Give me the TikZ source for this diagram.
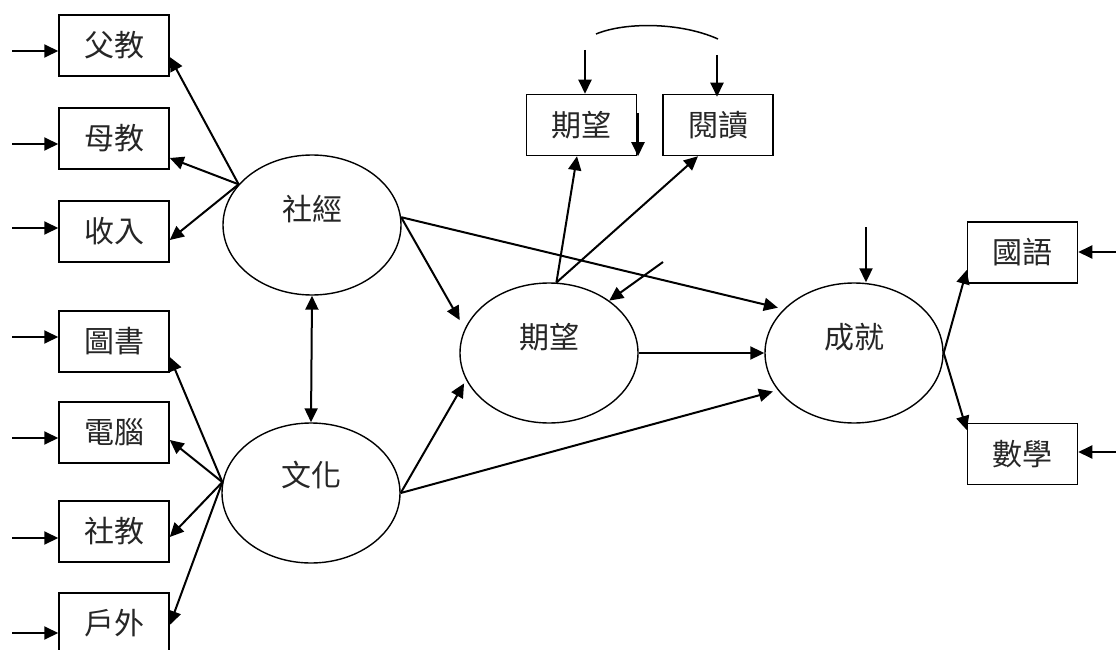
\documentclass[tikz,border=0pt]{standalone}
\usepackage{fontspec}
\newfontfamily\cjk{Noto Sans CJK TC}
\usetikzlibrary{shapes.geometric,arrows.meta}
\begin{document}
\begin{tikzpicture}[x=1pt,y=-1pt,
  obs/.style={draw,line width=1.5pt,minimum width=110pt,minimum height=61pt,inner sep=0pt,
              font=\cjk\fontsize{30}{34}\selectfont,text=black!85},
  lat/.style={draw,ellipse,line width=1.4pt,minimum width=178pt,minimum height=140pt,inner sep=0pt},
  latlab/.style={font=\cjk\fontsize{30}{34}\selectfont,inner sep=0pt,text=black!85},
  arr/.style={line width=2pt,-{Triangle[length=14pt,width=13pt]}},
  darr/.style={line width=2pt,{Triangle[length=14pt,width=13pt]}-{Triangle[length=14pt,width=13pt]}},
  arcline/.style={line width=1.5pt}]
\fill[white] (0,0) rectangle (1116,650);
\useasboundingbox (0,0) rectangle (1116,650);

% observed indicators, left column
\node[obs] (fj) at (114,45.5)  {父教};
\node[obs] (mj) at (114,138.5) {母教};
\node[obs] (sr) at (114,231.5) {收入};
\node[obs] (ts) at (114,341.5) {圖書};
\node[obs] (dn) at (114,432.5) {電腦};
\node[obs] (sj) at (114,531.5) {社教};
\node[obs] (hw) at (114,623.5) {戶外};

% observed indicators, top and right
\node[obs] (pw) at (581.5,125) {期望};
\node[obs] (yd) at (718,125)   {閱讀};
\node[obs] (gy) at (1022.5,252.5) {國語};
\node[obs] (sx) at (1022.5,454)   {數學};

% latent factors
\node[lat] (se) at (312,225) {};
\node[lat] (wh) at (311,493) {};
\node[lat] (qw) at (549,353) {};
\node[lat] (cj) at (854,353) {};
\node[latlab] (sel) at ([yshift=16pt]se.center) {社經};
\node[latlab] (whl) at ([yshift=18pt]wh.center) {文化};
\node[latlab] (qwl) at ([yshift=16pt]qw.center) {期望};
\node[latlab] (cjl) at ([yshift=16pt]cj.center) {成就};

% error terms (free ends)
\coordinate (i1) at (12,51);
\coordinate (i2) at (12,144);
\coordinate (i3) at (12,228);
\coordinate (i4) at (12,337);
\coordinate (i5) at (12,438);
\coordinate (i6) at (12,538);
\coordinate (i7) at (12,633);
\coordinate (r1) at (1116,252);
\coordinate (r2) at (1116,452);
\coordinate (t1) at (585,50);
\coordinate (t2) at (717,55);
\coordinate (t3) at (866,227);
\coordinate (t4) at (638,113);
\coordinate (t5) at (663,262);
\coordinate (a1) at (596,34);
\coordinate (a2) at (718,39);

\foreach \c/\b in {i1/fj,i2/mj,i3/sr,i4/ts,i5/dn,i6/sj,i7/hw}
  \draw[arr] (\c) -- (\c -| \b.west);
\foreach \c/\b in {r1/gy,r2/sx}
  \draw[arr] (\c) -- (\c -| \b.east);
\draw[arr] (t1) -- (t1 |- pw.north);
\draw[arr] (t2) -- ([yshift=-3pt]t2 |- yd.north);
\draw[arr] (t4) -- (t4 |- pw.south);
\draw[arr] (t3) -- (t3 |- cj.north);
\draw[arr] (t5) -- (qw.41);
\draw[arcline] (a1) .. controls (625,22) and (680,22) .. (a2);

% loadings of the latent factors
\draw[arr] (se.151) -- ([yshift=-11.5pt]fj.east);
\draw[arr] (se.151) -- ([yshift=-19.5pt]mj.east);
\draw[arr] (se.151) -- ([yshift=-8.5pt]sr.east);
\draw[arr] (wh.173) -- ([yshift=-15.5pt]ts.east);
\draw[arr] (wh.173) -- ([yshift=-7.5pt]dn.east);
\draw[arr] (wh.173) -- ([yshift=-5.5pt]sj.east);
\draw[arr] (wh.173) -- ([yshift=-1.5pt]hw.east);
\draw[arr] (qw.84) -- ([xshift=-4.5pt]pw.south);
\draw[arr] (qw.84) -- ([xshift=-20pt]yd.south);
\draw[arr] (cj.east) -- ([yshift=-17.5pt]gy.west);
\draw[arr] (cj.east) -- ([yshift=24pt]sx.west);

% structural paths
\draw[darr] (se.south) -- (wh.north);
\draw[arr,shorten >=10pt] (se.5) -- (qw.164);
\draw[arr,shorten >=6pt] (se.5) -- (cj.148);
\draw[arr] (qw.east) -- (cj.west);
\draw[arr,shorten >=4pt] (wh.east) -- (qw.198);
\draw[arr,shorten >=5pt] (wh.east) -- (cj.206);
\end{tikzpicture}
\end{document}
